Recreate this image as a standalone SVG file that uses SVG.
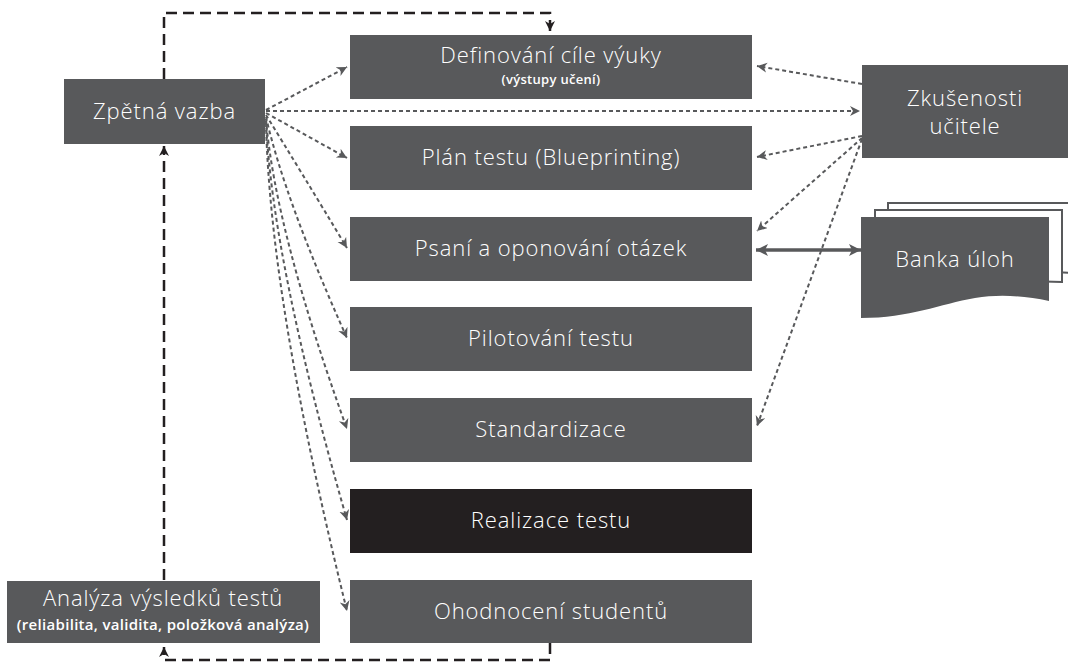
<svg xmlns="http://www.w3.org/2000/svg" width="1068" height="668" viewBox="0 0 1068 668">
<defs>
<style>
.box{fill:#58595b}
.dark{fill:#231f20}
.t{font-family:"Open Sans",Lato,"Liberation Sans",sans-serif;fill:#ffffff;text-anchor:middle;font-size:22px;font-weight:300;letter-spacing:0.9px}
.s{font-family:"Open Sans",Lato,"Liberation Sans",sans-serif;fill:#ffffff;text-anchor:middle;font-size:15px;font-weight:600;letter-spacing:0.3px}
.dot{fill:none;stroke:#58595b;stroke-width:2;stroke-dasharray:4 3}
.dash{fill:none;stroke:#231f20;stroke-width:2.5;stroke-dasharray:11 6}
.page{fill:#ffffff;stroke:#58595b;stroke-width:2}
</style>
<marker id="ag" markerUnits="userSpaceOnUse" markerWidth="12" markerHeight="12" refX="10" refY="5" orient="auto">
<path d="M0,0 L10,5 L0,10 L3,5 Z" fill="#58595b"/>
</marker>
<marker id="ak" markerUnits="userSpaceOnUse" markerWidth="12" markerHeight="12" refX="10" refY="5" orient="auto">
<path d="M0,0 L10,5 L0,10 L3,5 Z" fill="#231f20"/>
</marker>
<marker id="ab" markerUnits="userSpaceOnUse" markerWidth="14" markerHeight="14" refX="12" refY="6" orient="auto-start-reverse">
<path d="M0,0 L12,6 L0,12 L3,6 Z" fill="#58595b"/>
</marker>
</defs>

<g id="connectors">
<path class="dash" d="M164,79 V13 H550 V31" marker-end="url(#ak)"/>
<path class="dash" d="M550,643 V660 H164 V647" marker-end="url(#ak)"/>
<path class="dash" d="M164,580 V146" marker-end="url(#ak)"/>
<path class="dot" d="M266,110 L347,67" marker-end="url(#ag)"/>
<path class="dot" d="M266,111 L860,111" marker-end="url(#ag)"/>
<path class="dot" d="M266,113 L347,158" marker-end="url(#ag)"/>
<path class="dot" d="M266,115 Q300,170 347,248" marker-end="url(#ag)"/>
<path class="dot" d="M266,117 Q285,200 347,338" marker-end="url(#ag)"/>
<path class="dot" d="M266,119 Q275,230 347,429" marker-end="url(#ag)"/>
<path class="dot" d="M266,121 Q272,260 347,520" marker-end="url(#ag)"/>
<path class="dot" d="M266,123 Q270,300 347,611" marker-end="url(#ag)"/>
<path class="dot" d="M862,84 L757,66" marker-end="url(#ag)"/>
<path class="dot" d="M862,136 L757,157" marker-end="url(#ag)"/>
<path class="dot" d="M862,138 Q820,175 757,231" marker-end="url(#ag)"/>
<path class="dot" d="M862,139 L757,426" marker-end="url(#ag)"/>
<path d="M756,250 H861" fill="none" stroke="#58595b" stroke-width="3.5" marker-start="url(#ab)" marker-end="url(#ab)"/>
</g>

<g id="n-zpetna">
<rect class="box" x="64" y="79" width="201" height="65"/>
<text class="t" x="164.5" y="119">Zpětná vazba</text>
</g>
<g id="n-definovani">
<rect class="box" x="350" y="35" width="402" height="64"/>
<text class="t" x="551" y="63">Definování cíle výuky</text>
<text class="s" x="551" y="84" style="font-size:13px">(výstupy učení)</text>
</g>
<g id="n-plan">
<rect class="box" x="350" y="126" width="402" height="64"/>
<text class="t" x="551" y="165">Plán testu (Blueprinting)</text>
</g>
<g id="n-psani">
<rect class="box" x="350" y="217" width="402" height="64"/>
<text class="t" x="551" y="256">Psaní a oponování otázek</text>
</g>
<g id="n-pilotovani">
<rect class="box" x="350" y="307" width="402" height="64"/>
<text class="t" x="551" y="346">Pilotování testu</text>
</g>
<g id="n-standardizace">
<rect class="box" x="350" y="398" width="402" height="64"/>
<text class="t" x="551" y="437">Standardizace</text>
</g>
<g id="n-realizace">
<rect class="dark" x="350" y="489" width="402" height="64"/>
<text class="t" x="551" y="528">Realizace testu</text>
</g>
<g id="n-ohodnoceni">
<rect class="box" x="350" y="580" width="402" height="63"/>
<text class="t" x="551" y="619">Ohodnocení studentů</text>
</g>
<g id="n-analyza">
<rect class="box" x="7" y="581" width="313" height="62"/>
<text class="t" x="163" y="606">Analýza výsledků testů</text>
<text class="s" x="163" y="630">(reliabilita, validita, položková analýza)</text>
</g>
<g id="n-zkusenosti">
<rect class="box" x="862" y="65" width="206" height="93"/>
<text class="t" x="965" y="106">Zkušenosti</text>
<text class="t" x="965" y="134">učitele</text>
</g>
<g id="n-banka">
<path class="page" d="M888,203 H1070 V273 C1030,270 1000,272 980,276 L888,276 Z"/>
<path class="page" d="M875,210 H1062 V282 C1030,280 1000,284 980,288 L875,288 Z"/>
<path class="box" d="M861,217 H1049 V301 C1025,296 1000,294 975,298 C940,304 910,318 861,318 Z"/>
<text class="t" x="955" y="267">Banka úloh</text>
</g>
</svg>
